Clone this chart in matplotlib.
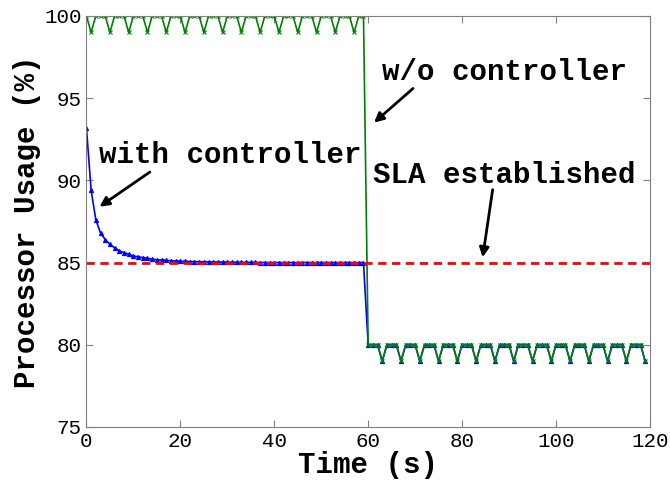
import numpy as np
import matplotlib
matplotlib.use('Agg')
import matplotlib.pyplot as plt

plt.rcParams['font.family'] = ['Liberation Mono', 'DejaVu Sans Mono']

# time axis (s)
time = np.arange(0, 120)

# w/o controller
usage_no_ctrl = [
    100, 99, 100, 100, 100, 99, 100, 100, 100, 99, 100, 100, 100, 99, 100, 100, 100, 99, 100, 100,
    100, 99, 100, 100, 100, 99, 100, 100, 100, 99, 100, 100, 100, 99, 100, 100, 100, 99, 100, 100,
    100, 99, 100, 100, 100, 99, 100, 100, 100, 99, 100, 100, 100, 99, 100, 100, 100, 99, 100, 100,
    80, 80, 80, 79, 80, 80, 80, 79, 80, 80, 80, 79, 80, 80, 80, 79, 80, 80, 80, 79,
    80, 80, 80, 79, 80, 80, 80, 79, 80, 80, 80, 79, 80, 80, 80, 79, 80, 80, 80, 79,
    80, 80, 80, 79, 80, 80, 80, 79, 80, 80, 80, 79, 80, 80, 80, 79, 80, 80, 80, 79,
]

# with controller
usage_ctrl = [
    93.2, 89.4, 87.6, 86.8, 86.4, 86.1, 85.9, 85.7, 85.6, 85.5,
    85.4, 85.35, 85.3, 85.25, 85.2, 85.17, 85.15, 85.13, 85.11, 85.1,
    85.08, 85.07, 85.06, 85.05, 85.05, 85.04, 85.04, 85.03, 85.03, 85.02,
    85.02, 85.02, 85.01, 85.01, 85.01, 85.01, 85.01, 85.0, 85.0, 85.0,
    85.0, 85.0, 85.0, 85.0, 85.0, 85.0, 85.0, 85.0, 85.0, 85.0,
    85.0, 85.0, 85.0, 85.0, 85.0, 85.0, 85.0, 85.0, 85.0, 85.0,
    80, 80, 80, 79, 80, 80, 80, 79, 80, 80, 80, 79, 80, 80, 80, 79, 80, 80, 80, 79,
    80, 80, 80, 79, 80, 80, 80, 79, 80, 80, 80, 79, 80, 80, 80, 79, 80, 80, 80, 79,
    80, 80, 80, 79, 80, 80, 80, 79, 80, 80, 80, 79, 80, 80, 80, 79, 80, 80, 80, 79,
]

sla = 85

fig = plt.figure(figsize=(6.7, 4.84), dpi=100)
ax = fig.add_axes([0.129, 0.118, 0.841, 0.849])

ax.plot(time, usage_ctrl, color='#0000ff', lw=1.2, marker='^', ms=3, mew=0.8)
ax.plot(time, usage_no_ctrl, color='#008000', lw=1.2, marker='x', ms=3, mew=0.8)
ax.axhline(sla, color='#ff0000', lw=2, ls='--', dashes=(3, 2))

ax.set_xlim(0, 120)
ax.set_ylim(75, 100)
ax.set_xticks([0, 20, 40, 60, 80, 100, 120])
ax.set_yticks([75, 80, 85, 90, 95, 100])
ax.tick_params(direction='in', length=5, top=True, right=True, labelsize=15, color='#808080')
for s in ax.spines.values():
    s.set_color('#808080')

ax.set_xlabel('Time (s)', fontsize=21, fontweight='bold', labelpad=0)
ax.set_ylabel('Processor Usage (%)', fontsize=21, fontweight='bold', labelpad=2)

txt = dict(fontsize=21, fontweight='bold', ha='center', va='center')
arr = dict(arrowstyle='-|>', color='black', lw=2, mutation_scale=14)

ax.text(30.6, 91.55, 'with controller', **txt)
ax.annotate('', xy=(2.3, 88.3), xytext=(14.0, 90.6), arrowprops=arr)

ax.text(89.1, 96.6, 'w/o controller', **txt)
ax.annotate('', xy=(60.8, 93.4), xytext=(70.0, 95.7), arrowprops=arr)

ax.text(88.9, 90.35, 'SLA established', **txt)
ax.annotate('', xy=(84.3, 85.15), xytext=(86.6, 89.6), arrowprops=arr)

fig.savefig('out.png', dpi=100)
